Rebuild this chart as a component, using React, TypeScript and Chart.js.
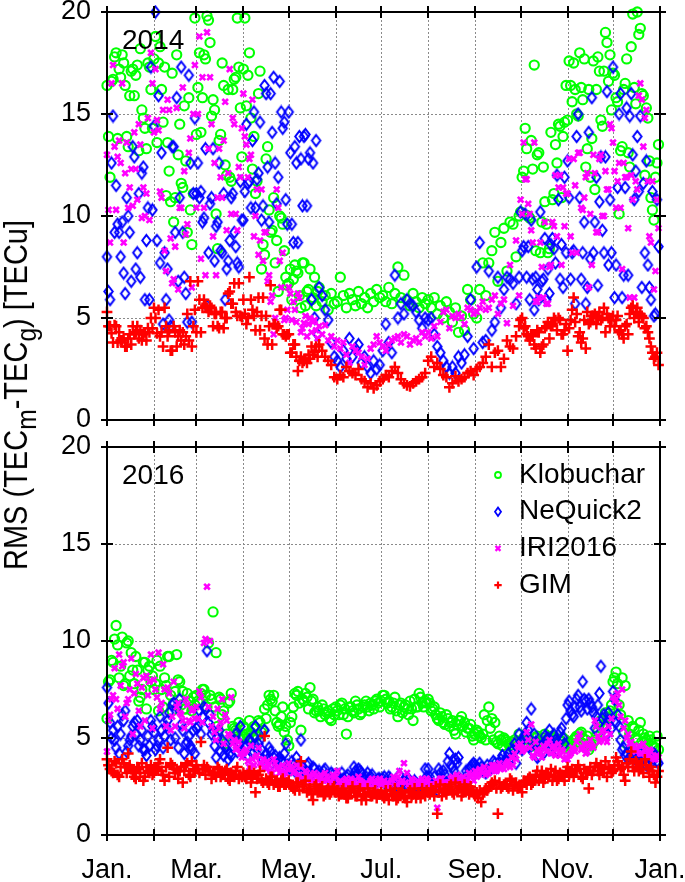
import React, { useEffect, useRef } from 'react';
import { Chart, registerables } from 'chart.js';

Chart.register(...registerables);

// ---------- categories / ticks ----------
const DAYS: number[] = Array.from({ length: 183 }, (_, i) => i * 2); // even days of year 0..364
const ODD_DAYS: number[] = Array.from({ length: 182 }, (_, i) => 1 + i * 2); // odd days 1..363
const EARLY_DAYS: number[] = Array.from({ length: 70 }, (_, i) => 1 + i * 2); // odd days 1..139
const LATE_DAYS: number[] = Array.from({ length: 46 }, (_, i) => 273 + i * 2); // odd days 273..363
const MONTH_STARTS = [0, 31, 59, 90, 120, 151, 181, 212, 243, 273, 304, 334, 365];
const MONTH_LABELS = ['Jan.', '', 'Mar.', '', 'May.', '', 'Jul.', '', 'Sep.', '', 'Nov.', '', 'Jan.'];
const Y_TICKS = [0, 5, 10, 15, 20];
const SERIES_NAMES = ['Klobuchar', 'NeQuick2', 'IRI2016', 'GIM'];
const SERIES_COLORS = ['#00ff00', '#0000ff', '#ff00ff', '#ff0000'];
const PANEL_YEARS = ['2014', '2016'];

// ---------- 2014 panel, even days (rows: Jan..Dec) ----------
const KLOB_2014 = [
  16.4, 11.9, 16.7, 18.0, 17.2, 17.9, 16.4, 13.4, 17.1, 15.9, 17.4, 18.2, 14.8, 13.3, 17.3, 14.3,
  18.8, 17.5, 16.2, 17.3, 13.6, 10.7, 9.7, 17.9, 14.5, 11.4, 12.7, 15.8, 8.6, 19.7,
  16.3, 14.1, 17.9, 19.8, 18.5, 15.7, 10.1, 13.7, 17.5, 12.5, 16.2, 11.7, 16.7, 19.7, 15.3,
  17.2, 15.4, 18.0, 12.3, 11.1, 16.0, 7.4, 8.1, 13.4, 9.2, 10.9, 8.8, 10.0, 9.6, 7.0,
  6.7, 5.9, 7.6, 7.2, 5.5, 7.7, 6.3, 7.4, 6.0, 5.6, 6.5, 5.8, 6.1, 5.4, 6.2, 5.7,
  5.8, 7.0, 6.1, 5.5, 6.2, 5.9, 5.6, 6.3, 5.7, 6.0, 5.5, 6.2, 5.8, 6.4, 6.0,
  6.1, 5.8, 6.5, 5.7, 6.2, 7.5, 6.0, 7.1, 5.9, 5.6, 6.2, 5.8, 5.5, 6.0, 5.7,
  5.9, 5.5, 6.0, 5.2, 5.6, 5.0, 5.8, 5.3, 4.8, 5.5, 4.3, 5.1, 4.4, 6.4, 5.9, 5.2,
  5.0, 6.4, 7.7, 6.1, 7.7, 8.3, 9.2, 6.8, 8.7, 9.4, 7.3, 9.7, 9.6, 8.0, 10.0,
  11.9, 14.3, 10.0, 13.7, 17.4, 13.0, 8.2, 12.4, 9.6, 8.4, 10.8, 13.5, 14.5, 10.9, 14.6,
  14.7, 16.4, 17.5, 15.0, 18.0, 15.7, 12.4, 16.2, 13.8, 11.3, 17.8, 14.7, 17.1, 18.5, 17.9,
  17.0, 15.8, 10.1, 13.4, 16.5, 13.1, 18.3, 16.3, 20.0, 19.2, 15.9, 15.3, 12.7, 10.3, 11.9, 13.5,
];
const NEQ_2014 = [
  8.0, 5.9, 14.9, 11.5, 9.2, 9.7, 6.2, 10.0, 6.8, 12.9, 8.2, 7.0, 12.4, 8.8, 5.9, 10.3,
  20.0, 15.9, 13.1, 8.2, 7.4, 4.6, 13.4, 15.8, 10.9, 9.2, 6.2, 16.9, 4.8, 14.8,
  12.6, 11.2, 9.9, 5.6, 10.6, 13.3, 9.5, 12.6, 8.2, 5.9, 7.8, 10.9, 9.2, 7.7, 11.7,
  9.8, 14.5, 11.7, 13.7, 10.4, 12.1, 9.8, 16.4, 12.4, 16.0, 16.8, 10.6, 16.6, 14.3, 10.8,
  15.1, 9.6, 13.4, 8.7, 12.8, 13.9, 10.5, 13.1, 12.6, 13.7, 6.5, 6.1, 5.4, 4.9, 3.8, 3.1,
  2.9, 2.6, 3.4, 3.0, 4.0, 3.1, 3.5, 3.7, 2.8, 3.1, 2.6, 2.3, 2.9, 2.5, 2.7,
  3.4, 4.7, 3.8, 3.3, 7.1, 5.0, 5.7, 5.2, 5.9, 5.7, 5.6, 5.3, 4.9, 4.5, 5.0,
  4.9, 5.0, 4.2, 3.6, 3.3, 2.9, 2.6, 2.3, 2.6, 2.3, 3.1, 2.8, 3.2, 4.1, 5.9, 3.5,
  7.5, 8.7, 3.8, 3.9, 7.3, 4.4, 4.8, 7.0, 5.5, 6.4, 7.0, 6.9, 6.7, 5.7, 7.0,
  8.3, 10.1, 8.5, 9.8, 5.4, 6.4, 10.2, 6.9, 5.9, 6.2, 8.9, 7.7, 10.8, 8.6, 11.9,
  12.7, 6.9, 8.3, 13.9, 10.9, 8.2, 5.7, 14.1, 15.8, 9.7, 6.6, 12.9, 8.2, 16.1, 10.8,
  17.3, 7.6, 15.0, 6.0, 11.4, 7.1, 16.0, 10.8, 13.9, 14.9, 11.6, 12.7, 6.5, 11.2, 5.2, 8.5,
];
const IRI_2014 = [
  13.0, 8.7, 17.4, 10.3, 13.7, 16.5, 12.1, 10.4, 12.3, 14.1, 10.8, 13.5, 11.4, 11.1, 9.8, 16.5,
  17.2, 14.2, 10.9, 8.3, 15.7, 8.9, 6.9, 15.3, 10.4, 16.3, 9.1, 13.1, 6.5, 17.4,
  15.0, 7.9, 10.4, 19.0, 16.8, 9.0, 7.1, 13.3, 10.9, 15.6, 12.1, 10.1, 14.5, 9.3, 11.9,
  16.0, 13.5, 12.8, 15.7, 10.0, 8.1, 11.3, 9.2, 6.8, 5.8, 4.2, 11.3, 7.8, 8.2, 5.0,
  6.5, 4.9, 5.4, 6.2, 4.3, 4.75, 4.1, 5.0, 4.8, 4.4, 4.6, 4.2, 4.65, 3.9, 4.1, 3.6,
  3.9, 3.5, 3.8, 3.2, 2.8, 3.6, 3.4, 3.3, 3.1, 2.7, 3.0, 3.5, 3.7, 4.1, 3.8,
  3.6, 3.4, 3.7, 3.9, 4.0, 4.1, 3.8, 4.2, 4.1, 3.7, 3.9, 4.0, 3.8, 4.3, 4.1,
  4.3, 4.0, 4.6, 4.1, 4.8, 5.3, 5.4, 4.5, 5.1, 5.0, 5.2, 5.05, 4.7, 5.5, 5.4, 5.2,
  5.3, 5.5, 5.8, 5.4, 5.5, 5.9, 6.1, 5.2, 5.7, 5.9, 4.75, 7.6, 5.6, 8.8, 6.1,
  10.1, 11.8, 10.6, 9.3, 13.6, 5.8, 8.7, 6.0, 5.7, 7.5, 9.7, 12.0, 11.4, 7.6, 9.5,
  11.1, 9.0, 12.8, 8.2, 13.1, 10.3, 11.9, 6.5, 7.6, 12.1, 9.2, 13.0, 10.0, 11.3, 14.5,
  13.6, 10.4, 12.6, 7.4, 11.9, 9.4, 12.0, 6.0, 11.3, 16.5, 13.4, 15.2, 9.0, 11.7, 7.3, 9.4,
];
const GIM_2014 = [
  5.3, 4.6, 3.8, 4.6, 4.3, 3.9, 3.6, 4.0, 3.7, 4.2, 4.6, 4.4, 4.2, 3.9, 4.3, 4.5,
  5.0, 5.4, 4.3, 5.5, 4.1, 3.4, 4.6, 3.6, 4.4, 4.3, 4.1, 3.9, 3.6, 5.4,
  6.8, 4.3, 5.9, 5.5, 5.6, 4.6, 5.2, 4.5, 5.3, 5.0, 6.2, 5.7, 6.7, 5.1, 5.1,
  5.9, 4.7, 7.0, 5.4, 4.4, 6.0, 5.1, 4.0, 3.7, 6.6, 4.7, 4.5, 5.4, 4.2, 4.1,
  4.2, 3.3, 3.7, 2.4, 3.1, 2.9, 2.8, 3.0, 3.2, 3.6, 3.7, 3.4, 3.1, 2.9, 2.7, 2.1,
  2.0, 2.2, 2.1, 2.6, 2.4, 2.3, 2.2, 2.5, 2.0, 1.9, 1.6, 1.8, 1.55, 1.7, 1.9,
  2.0, 2.2, 2.1, 2.4, 2.6, 2.3, 2.0, 1.8, 1.7, 1.65, 1.8, 1.9, 2.0, 2.1, 2.3,
  2.9, 3.1, 2.6, 2.8, 2.5, 2.2, 2.1, 1.6, 1.8, 2.15, 1.9, 2.0, 2.1, 2.3, 2.4, 2.2,
  2.5, 2.6, 2.8, 3.1, 3.7, 2.6, 3.3, 3.4, 2.6, 3.0, 3.9, 3.6, 3.5, 4.1, 4.6,
  5.0, 4.6, 4.1, 4.2, 3.7, 4.4, 3.3, 3.7, 4.6, 4.0, 4.7, 4.9, 5.0, 4.2, 4.4,
  3.4, 4.9, 6.0, 5.2, 4.3, 4.0, 3.5, 4.7, 5.1, 5.2, 5.0, 4.9, 5.5, 5.2, 4.6,
  5.1, 4.9, 4.3, 4.2, 4.6, 4.2, 5.5, 5.0, 5.5, 5.2, 5.0, 4.6, 4.0, 3.3, 3.1, 2.7,
];

// ---------- 2014 panel, odd days of the noisy seasons (Jan..mid-May, Oct..Dec) ----------
const KLOB_2014_EARLY = [
  13.9, 16.6, 17.8, 13.8, 16.8, 17.5, 13.9, 15.9, 17.2, 16.9, 13.2, 15.2, 14.3, 17.5, 16.2,
  17.7, 13.6, 18.3, 14.6, 11.0, 12.2, 17.0, 10.9, 13.0, 11.6, 15.4, 9.2, 10.3, 11.1,
  14.0, 18.0, 15.8, 17.7, 19.6, 14.9, 15.2, 8.4, 14.0, 16.4, 12.0, 11.9, 16.2, 16.8, 17.3, 12.9,
  19.7, 16.9, 14.8, 13.9, 11.7, 17.1, 8.6, 12.8, 10.3, 9.3, 7.7, 6.3, 9.9, 8.3, 6.6,
  7.4, 6.9, 7.3, 6.1, 7.7, 5.6, 6.4, 5.9, 7.0, 6.3,
];
const KLOB_2014_LATE = [
  10.2, 12.2, 13.3, 9.9, 12.3, 8.3, 13.1, 9.7, 10.7, 8.2, 14.1, 11.1, 12.6, 14.4, 13.9, 16.4,
  17.6, 15.6, 16.2, 14.9, 16.3, 17.7, 13.3, 11.9, 17.6, 16.2, 17.1, 14.4, 19.0, 16.6, 15.2,
  16.9, 15.6, 13.2, 16.2, 17.7, 12.4, 19.9, 15.5, 18.9, 16.0, 12.0, 14.8, 10.9, 9.8, 12.6,
];
const NEQ_2014_EARLY = [
  6.3, 12.6, 9.2, 9.6, 8.0, 7.2, 10.9, 9.2, 13.4, 7.4, 11.1, 12.1, 5.9, 10.4, 17.3,
  14.4, 8.8, 7.7, 4.7, 5.9, 4.9, 13.4, 9.2, 6.8, 17.3, 7.0, 4.8, 12.6, 11.1,
  11.1, 10.9, 9.7, 13.3, 8.2, 10.9, 7.8, 9.7, 8.3, 11.1, 7.4, 8.8, 11.1, 8.5, 7.5, 9.8,
  11.2, 11.6, 10.4, 15.1, 11.8, 14.6, 10.5, 16.0, 9.7, 14.1, 12.6, 11.9, 15.1, 14.6, 9.6,
  13.1, 8.7, 12.6, 13.9, 10.5, 14.0, 12.8, 5.9, 5.0, 4.2,
];
const NEQ_2014_LATE = [
  10.2, 8.5, 7.0, 5.9, 6.9, 7.0, 5.9, 6.8, 8.9, 7.4, 8.6, 8.4, 12.0, 6.9, 6.5, 8.2,
  10.9, 8.2, 5.7, 15.0, 6.9, 9.7, 6.5, 7.9, 8.2, 11.9, 10.7, 9.3, 12.9, 7.6, 8.2,
  6.0, 11.4, 16.0, 7.1, 15.3, 14.9, 13.0, 12.2, 11.2, 6.5, 8.2, 7.6, 5.9, 5.1, 10.8,
];
const IRI_2014_EARLY = [
  10.3, 16.5, 13.4, 12.9, 12.6, 8.7, 13.6, 11.4, 10.5, 12.3, 14.5, 9.9, 10.0, 14.8, 18.0,
  14.1, 14.7, 11.2, 15.2, 7.3, 15.2, 6.7, 8.5, 6.4, 10.4, 12.2, 9.6, 13.8, 15.0,
  10.4, 18.8, 16.8, 7.1, 13.3, 14.5, 12.6, 10.9, 11.9, 13.7, 9.3, 17.2, 14.8, 10.1, 12.4, 14.3,
  13.9, 11.9, 13.0, 9.0, 11.3, 8.8, 7.8, 9.2, 7.1, 6.1, 5.0, 10.4, 6.5, 4.9, 5.4,
  6.2, 5.8, 4.8, 6.0, 4.5, 5.1, 4.7, 4.3, 4.9, 4.0,
];
const IRI_2014_LATE = [
  10.8, 13.6, 11.8, 10.1, 8.7, 5.8, 6.0, 7.5, 9.7, 5.7, 7.6, 9.5, 9.0, 12.0, 11.4, 11.1,
  12.8, 8.2, 11.5, 13.1, 10.4, 10.9, 12.1, 10.1, 13.0, 9.2, 12.8, 10.0, 12.2, 11.3, 14.3,
  12.2, 11.7, 10.4, 12.6, 11.9, 6.0, 10.8, 11.7, 15.9, 15.7, 14.8, 11.7, 8.7, 6.4, 10.8,
];
const GIM_2014_EARLY = [
  4.6, 4.25, 4.65, 3.8, 3.9, 4.0, 3.6, 4.2, 4.6, 4.3, 4.0, 3.9, 4.3, 4.5, 5.0,
  5.5, 4.25, 4.1, 3.6, 4.6, 4.4, 3.4, 4.3, 4.1, 3.9, 3.7, 5.2, 6.8, 4.6,
  4.3, 5.9, 5.5, 5.6, 5.3, 5.5, 5.2, 4.6, 5.3, 4.5, 5.0, 6.3, 5.7, 5.3, 6.7, 5.05,
  5.2, 5.0, 5.9, 5.1, 5.3, 4.4, 6.0, 5.1, 4.6, 3.7, 4.7, 4.6, 5.4, 4.2, 4.2,
  3.3, 3.7, 3.1, 2.9, 2.8, 3.0, 3.2, 3.6, 3.35, 3.1,
];
const GIM_2014_LATE = [
  4.9, 4.5, 4.2, 3.9, 4.1, 3.5, 4.3, 3.6, 4.5, 4.8, 4.6, 5.0, 4.4, 4.9, 4.2, 4.7,
  4.5, 5.4, 4.8, 4.1, 3.8, 4.9, 5.3, 4.8, 5.1, 4.7, 5.3, 5.0, 4.3, 5.0, 4.9,
  4.6, 5.1, 4.4, 4.0, 4.7, 5.2, 5.6, 5.3, 4.8, 5.1, 4.5, 4.3, 3.6, 3.0, 3.3,
];

// ---------- 2016 panel, even days ----------
const KLOB_2016 = [
  6.0, 8.0, 8.9, 10.8, 8.1, 10.2, 7.8, 10.0, 9.4, 7.8, 8.5, 7.1, 8.9, 6.5, 8.7, 8.2,
  7.8, 6.4, 7.5, 8.1, 9.2, 7.2, 6.8, 9.3, 7.9, 7.4, 6.5, 6.9, 6.4, 6.7,
  6.9, 7.3, 7.5, 6.6, 7.2, 11.5, 9.4, 7.1, 6.2, 4.7, 6.8, 7.3, 5.5, 5.3, 5.0,
  5.6, 5.2, 5.9, 5.0, 5.5, 5.9, 5.3, 6.5, 6.7, 7.0, 7.2, 5.8, 5.7, 6.6, 5.6,
  4.6, 6.1, 7.3, 7.4, 5.4, 6.9, 7.1, 7.6, 7.0, 6.4, 6.4, 6.7, 6.2, 6.4, 5.9, 6.2,
  6.4, 6.7, 6.2, 5.2, 6.6, 6.4, 6.9, 6.5, 6.3, 6.7, 6.6, 6.8, 6.5, 7.0, 6.6,
  7.2, 7.0, 6.9, 6.6, 7.1, 6.1, 6.8, 6.6, 6.5, 6.9, 5.9, 6.6, 7.3, 6.8, 6.9,
  7.0, 6.4, 6.6, 6.0, 6.3, 5.8, 6.2, 5.6, 5.9, 5.2, 5.9, 6.1, 5.8, 5.5, 5.7, 4.9,
  5.4, 5.1, 5.2, 4.9, 6.6, 6.0, 5.8, 4.7, 4.9, 5.0, 4.8, 4.6, 4.5, 4.7, 5.2,
  4.9, 4.6, 5.0, 4.8, 4.7, 5.1, 4.8, 5.0, 4.9, 5.0, 5.1, 4.9, 4.6, 4.8, 4.7,
  4.6, 4.7, 4.9, 5.1, 5.2, 5.0, 4.9, 4.4, 4.6, 4.9, 5.4, 5.9, 5.5, 6.1, 6.4,
  7.9, 8.4, 6.7, 8.1, 7.7, 5.9, 4.4, 5.5, 4.9, 5.8, 5.2, 4.9, 5.1, 4.6, 4.5, 4.4,
];
const NEQ_2016 = [
  7.6, 5.8, 5.4, 4.5, 4.2, 6.2, 6.4, 4.6, 5.1, 5.8, 5.9, 4.9, 4.4, 4.1, 4.6, 5.6,
  4.4, 4.9, 5.4, 5.1, 5.9, 4.9, 6.8, 6.6, 7.0, 5.4, 4.7, 5.1, 4.4, 4.2,
  5.6, 5.2, 6.6, 9.5, 6.2, 5.4, 4.0, 5.4, 4.9, 4.5, 3.9, 4.1, 4.9, 4.3, 5.6,
  4.3, 4.6, 4.9, 4.2, 5.6, 4.7, 4.4, 5.4, 3.9, 4.3, 4.0, 3.7, 4.0, 3.8, 4.7,
  3.5, 3.8, 3.3, 3.6, 4.9, 3.4, 3.6, 3.2, 3.5, 3.0, 3.3, 3.1, 3.4, 3.0, 3.2, 2.9,
  3.1, 2.8, 2.9, 3.0, 2.7, 3.0, 3.3, 3.4, 3.2, 2.9, 3.2, 3.0, 2.8, 2.7, 2.9,
  2.9, 2.6, 3.0, 2.8, 2.7, 2.5, 2.6, 2.8, 2.7, 2.5, 2.4, 2.6, 2.5, 2.3, 3.4,
  3.4, 2.7, 3.0, 2.3, 3.2, 3.3, 2.7, 4.2, 3.5, 3.9, 4.0, 2.7, 2.5, 3.1, 3.5, 3.7,
  3.5, 3.7, 3.3, 3.2, 3.4, 3.5, 3.7, 3.6, 3.9, 3.8, 4.0, 3.9, 4.4, 3.7, 5.2,
  4.4, 5.2, 5.4, 6.5, 5.2, 4.0, 4.5, 4.2, 4.9, 5.4, 4.6, 4.9, 4.3, 5.5, 4.7,
  6.7, 6.4, 6.1, 7.0, 6.6, 7.9, 6.9, 7.0, 6.6, 5.5, 6.7, 8.7, 6.2, 5.2, 5.9,
  7.4, 5.8, 5.6, 4.4, 4.1, 3.9, 4.3, 4.0, 3.8, 4.2, 3.9, 3.6, 4.0, 3.8, 4.1, 3.7,
];
const IRI_2016 = [
  4.3, 6.2, 7.2, 7.0, 9.3, 8.7, 6.1, 7.0, 9.1, 7.3, 7.8, 5.6, 8.1, 8.2, 7.9, 5.5,
  7.5, 9.4, 6.8, 7.5, 7.6, 5.4, 7.9, 6.6, 6.3, 5.9, 7.0, 5.9, 6.4, 6.0,
  6.0, 7.1, 9.9, 12.8, 10.0, 6.1, 4.9, 5.5, 7.0, 6.2, 5.2, 7.1, 4.9, 4.5, 4.2,
  4.2, 4.4, 3.5, 3.9, 4.0, 4.5, 3.6, 3.5, 3.8, 3.3, 3.9, 3.4, 3.2, 3.6, 3.2,
  3.7, 3.4, 3.3, 3.0, 3.5, 2.8, 3.2, 2.9, 3.1, 2.7, 3.0, 2.8, 3.2, 2.9, 2.7, 3.0,
  3.3, 2.8, 2.5, 2.9, 2.6, 2.8, 2.5, 3.0, 2.7, 2.6, 2.5, 2.8, 2.6, 2.7, 2.9,
  2.7, 2.6, 2.5, 2.8, 2.9, 3.0, 2.7, 3.7, 3.2, 2.5, 2.8, 2.6, 2.7, 2.9, 2.6,
  2.8, 2.6, 2.5, 1.4, 2.9, 2.7, 2.5, 2.7, 3.0, 2.8, 2.6, 2.9, 2.5, 2.7, 3.0, 2.8,
  3.0, 3.4, 3.2, 3.1, 3.2, 3.6, 3.3, 3.5, 3.4, 3.4, 3.7, 3.5, 3.6, 3.9, 4.5,
  4.3, 4.5, 4.9, 5.7, 4.0, 4.4, 4.2, 4.6, 4.3, 4.9, 4.5, 4.1, 4.7, 4.4, 3.9,
  3.9, 4.2, 4.4, 4.8, 5.2, 4.5, 4.2, 4.6, 4.6, 5.9, 5.1, 4.9, 5.4, 4.8, 5.2,
  7.1, 7.0, 6.7, 7.5, 5.9, 5.2, 4.8, 4.6, 4.4, 4.2, 4.7, 4.1, 4.4, 4.0, 3.9, 4.0,
];
const GIM_2016 = [
  3.9, 3.4, 3.2, 3.7, 3.0, 3.9, 3.5, 4.2, 3.4, 3.0, 3.5, 3.2, 2.8, 3.5, 3.2, 3.1,
  3.5, 3.7, 3.3, 2.8, 4.5, 3.7, 3.4, 3.4, 3.3, 2.7, 3.6, 3.1, 3.8, 3.3,
  3.4, 4.8, 3.6, 3.5, 3.3, 3.2, 3.0, 3.4, 3.1, 3.3, 2.9, 3.2, 3.0, 3.5, 3.1,
  3.2, 2.9, 3.3, 3.0, 2.2, 3.1, 2.8, 5.1, 2.7, 3.0, 2.6, 2.8, 2.5, 2.9, 2.6,
  2.8, 2.5, 2.3, 2.7, 3.8, 2.6, 2.2, 2.4, 1.8, 2.6, 2.3, 2.5, 2.1, 2.4, 2.2, 2.5,
  2.3, 2.1, 2.4, 1.9, 2.2, 2.5, 2.0, 2.3, 1.8, 2.1, 2.4, 2.0, 2.2, 1.9, 2.1,
  2.0, 2.3, 1.8, 2.1, 2.4, 1.9, 2.2, 2.0, 1.7, 2.3, 2.1, 1.9, 2.2, 2.4, 2.0,
  2.2, 2.4, 2.0, 1.1, 2.6, 2.3, 2.1, 2.5, 2.2, 2.7, 2.4, 2.0, 2.6, 2.3, 2.5, 2.2,
  2.2, 2.3, 2.1, 2.4, 2.5, 2.7, 2.8, 1.1, 2.4, 2.6, 2.5, 2.9, 2.3, 2.7, 2.5,
  2.2, 2.7, 2.9, 2.6, 2.8, 3.3, 3.0, 2.7, 3.2, 3.0, 2.8, 3.3, 2.9, 3.1, 2.8,
  3.5, 3.2, 3.0, 3.3, 3.4, 2.9, 3.2, 2.4, 3.1, 3.5, 3.3, 3.6, 3.2, 3.0, 3.4,
  3.3, 4.0, 3.6, 3.5, 2.8, 3.5, 4.3, 3.3, 3.7, 3.4, 3.2, 3.6, 3.0, 3.3, 2.7, 3.3,
];

// ---------- 2016 panel, odd days ----------
const KLOB_2016_ODD = [
  7.9, 9.0, 10.1, 9.8, 8.7, 7.7, 9.9, 8.2, 8.5, 9.2, 6.9, 7.5, 8.9, 8.5, 7.9,
  7.5, 9.0, 8.7, 6.6, 7.7, 9.2, 6.4, 7.4, 8.0, 6.7, 6.5, 7.3, 6.9, 7.1,
  7.2, 6.8, 7.5, 7.2, 9.9, 7.0, 6.6, 5.6, 7.0, 6.4, 5.2, 6.9, 5.6, 5.4, 5.8, 5.1,
  5.5, 5.0, 5.3, 5.6, 5.1, 5.8, 5.4, 6.0, 7.2, 6.9, 6.4, 5.6, 6.1, 5.3, 4.9,
  5.8, 6.6, 7.2, 6.8, 7.0, 7.3, 6.5, 6.9, 6.3, 6.6, 6.1, 6.5, 6.3, 6.0, 6.5,
  6.6, 6.2, 6.8, 6.5, 6.1, 6.6, 6.3, 6.7, 6.2, 6.6, 6.9, 6.4, 6.7, 6.9, 6.8,
  6.9, 7.2, 6.8, 6.5, 6.8, 6.4, 6.7, 6.3, 6.7, 6.2, 6.5, 7.0, 6.6, 7.1, 6.6, 6.8,
  6.8, 6.5, 6.2, 5.9, 6.1, 5.7, 6.0, 5.8, 5.4, 5.7, 5.9, 5.6, 5.3, 5.5, 5.1,
  5.2, 5.3, 5.0, 6.2, 5.9, 5.5, 4.9, 4.8, 5.1, 4.6, 4.9, 4.7, 4.8, 4.9, 4.6,
  4.8, 5.0, 4.7, 4.9, 4.6, 5.0, 4.8, 4.7, 5.2, 4.9, 4.6, 5.0, 4.7, 4.9, 5.0, 4.5,
  4.8, 4.5, 5.0, 4.8, 5.3, 4.7, 5.1, 4.6, 4.8, 5.1, 5.7, 5.6, 6.3, 6.0, 6.7,
  8.1, 7.8, 6.2, 5.3, 4.7, 5.2, 5.6, 5.0, 5.4, 4.8, 5.0, 4.7, 4.9, 4.5, 5.1,
];
const NEQ_2016_ODD = [
  6.8, 5.0, 4.9, 5.6, 5.2, 5.9, 4.3, 4.9, 5.6, 5.2, 4.6, 5.4, 4.4, 5.1, 5.9,
  5.3, 4.6, 6.1, 4.5, 5.6, 6.3, 6.7, 5.0, 4.5, 5.7, 4.2, 4.8, 4.6, 5.4,
  5.5, 6.4, 6.1, 6.5, 5.8, 5.2, 4.6, 5.0, 4.3, 4.1, 4.6, 4.2, 4.5, 5.2, 4.8, 4.4,
  4.5, 4.1, 4.8, 5.1, 4.4, 4.9, 3.9, 4.2, 4.5, 3.7, 4.1, 3.9, 3.8, 4.2, 3.6,
  3.4, 3.6, 4.0, 3.3, 3.5, 3.2, 3.7, 3.1, 3.4, 3.2, 3.0, 3.3, 3.1, 2.9, 3.1,
  3.0, 2.9, 3.2, 2.8, 3.1, 2.9, 3.5, 3.1, 3.3, 2.8, 3.0, 2.9, 3.1, 2.7, 2.9,
  2.8, 3.0, 2.7, 2.9, 2.6, 2.8, 3.1, 2.7, 2.6, 2.9, 2.5, 2.8, 2.6, 2.4, 2.7, 3.0,
  3.0, 2.6, 2.5, 3.4, 2.9, 3.1, 3.8, 3.6, 3.3, 3.7, 2.9, 2.6, 3.3, 3.4, 3.6,
  3.6, 3.4, 3.5, 3.3, 3.6, 3.4, 3.8, 3.5, 3.7, 4.1, 3.8, 4.2, 4.0, 4.7, 4.5,
  4.8, 5.0, 5.8, 4.5, 4.3, 4.8, 4.1, 4.6, 5.1, 5.0, 4.4, 5.2, 4.7, 5.3, 5.0, 6.0,
  6.9, 6.2, 6.6, 7.2, 6.4, 7.0, 6.5, 6.8, 6.3, 6.1, 7.3, 6.0, 5.6, 6.3, 5.5,
  7.0, 6.2, 4.9, 4.5, 4.2, 4.0, 4.1, 3.9, 4.3, 3.8, 4.0, 3.7, 3.9, 4.2, 3.8,
];
const IRI_2016_ODD = [
  5.9, 7.0, 8.6, 6.5, 7.7, 8.9, 6.8, 7.5, 5.2, 8.3, 6.4, 7.6, 5.9, 7.2, 9.3,
  8.0, 7.1, 6.5, 8.8, 5.6, 7.3, 6.1, 5.6, 6.8, 6.2, 5.5, 6.7, 5.8, 6.5,
  6.6, 7.4, 5.8, 10.1, 6.6, 5.6, 5.3, 6.5, 5.8, 4.7, 5.9, 5.1, 4.7, 4.4, 4.8, 4.0,
  4.3, 3.8, 4.6, 3.6, 4.1, 3.7, 3.9, 3.4, 3.6, 3.2, 3.7, 3.5, 3.3, 3.0, 3.4,
  3.5, 3.2, 3.6, 3.1, 2.9, 3.3, 3.0, 2.8, 3.2, 2.9, 3.1, 2.8, 3.0, 2.7, 3.1,
  3.0, 2.7, 2.6, 2.8, 2.5, 2.9, 2.7, 2.6, 2.8, 2.4, 2.7, 2.6, 2.9, 2.5, 2.8,
  2.6, 2.8, 2.7, 2.5, 3.0, 2.6, 3.3, 2.8, 2.7, 2.6, 2.9, 2.5, 2.8, 2.6, 2.7, 2.9,
  2.6, 2.5, 2.8, 2.6, 2.9, 2.7, 2.6, 2.9, 2.7, 3.1, 2.8, 3.0, 2.9, 3.2, 3.1,
  3.3, 3.1, 3.3, 3.5, 3.2, 3.4, 3.6, 3.3, 3.7, 3.5, 3.6, 3.8, 4.0, 4.2, 4.6,
  4.7, 4.4, 5.3, 4.5, 4.1, 4.8, 4.3, 4.0, 4.5, 4.7, 4.2, 4.6, 4.4, 4.1, 4.3, 4.0,
  4.1, 4.5, 4.3, 5.0, 4.4, 4.7, 4.3, 4.9, 4.5, 5.6, 4.8, 5.3, 5.0, 5.6, 6.0,
  6.9, 7.3, 6.1, 5.5, 5.0, 4.7, 4.5, 4.3, 4.6, 4.2, 4.4, 4.1, 4.3, 3.9, 4.1,
];
const GIM_2016_ODD = [
  3.6, 3.3, 3.8, 3.1, 3.5, 3.7, 3.2, 3.6, 3.3, 2.9, 3.4, 3.7, 3.0, 3.3, 3.6,
  3.2, 3.4, 3.9, 3.1, 3.5, 3.0, 3.6, 3.2, 2.9, 3.5, 3.3, 3.7, 3.0, 3.4,
  3.6, 3.2, 3.4, 3.1, 3.3, 2.9, 3.2, 3.5, 3.0, 3.2, 3.4, 2.8, 3.1, 3.3, 2.9, 3.0,
  3.0, 3.1, 2.7, 3.2, 2.9, 3.3, 2.7, 2.9, 2.6, 3.0, 2.7, 2.5, 2.8, 2.6, 2.7,
  2.6, 2.4, 2.7, 2.3, 2.5, 2.8, 2.3, 2.1, 2.5, 2.2, 2.4, 2.0, 2.3, 2.1, 2.4,
  2.2, 2.0, 2.3, 2.1, 1.9, 2.3, 2.2, 2.0, 2.4, 2.1, 1.8, 2.2, 2.0, 2.3, 2.1,
  2.2, 1.9, 2.1, 2.3, 2.0, 1.8, 2.1, 2.3, 1.9, 2.2, 2.0, 2.4, 2.1, 1.9, 2.2, 2.3,
  2.1, 2.3, 2.5, 2.2, 2.0, 2.4, 2.3, 2.6, 2.1, 2.3, 2.5, 2.2, 2.4, 2.1, 2.3,
  2.0, 1.9, 1.7, 2.2, 2.3, 2.5, 2.6, 2.4, 2.7, 2.5, 2.6, 2.4, 2.8, 2.6, 2.4,
  2.5, 2.8, 2.6, 3.0, 2.7, 3.1, 2.8, 3.3, 2.9, 3.1, 3.4, 3.0, 2.8, 3.2, 3.0, 3.3,
  3.1, 3.4, 3.3, 3.6, 3.0, 3.4, 3.2, 3.5, 3.3, 3.7, 3.1, 3.4, 3.8, 3.5, 3.2,
  3.6, 3.8, 3.4, 3.1, 3.7, 3.9, 3.5, 3.8, 3.3, 3.6, 3.9, 3.4, 3.5, 3.1, 3.0,
];

const FONT = '"Liberation Sans", Arial, Helvetica, sans-serif';

function pts(days: number[], vals: number[]) {
  return vals.map((v, j) => ({ x: days[j], y: v }));
}

function makeDiamond(hw: number, hh: number, lw: number, color: string) {
  const c = document.createElement('canvas');
  const w = Math.ceil(2 * hw + lw + 2);
  const h = Math.ceil(2 * hh + lw + 2);
  c.width = w;
  c.height = h;
  const g = c.getContext('2d')!;
  g.strokeStyle = color;
  g.lineWidth = lw;
  g.lineJoin = 'miter';
  g.beginPath();
  g.moveTo(w / 2, h / 2 - hh);
  g.lineTo(w / 2 + hw, h / 2);
  g.lineTo(w / 2, h / 2 + hh);
  g.lineTo(w / 2 - hw, h / 2);
  g.closePath();
  g.stroke();
  return c;
}

function drawMarker(ctx: CanvasRenderingContext2D, kind: number, x: number, y: number) {
  ctx.save();
  ctx.strokeStyle = SERIES_COLORS[kind];
  ctx.beginPath();
  if (kind === 0) {
    ctx.lineWidth = 1.8;
    ctx.arc(x, y, 3.0, 0, Math.PI * 2);
  } else if (kind === 1) {
    ctx.lineWidth = 1.8;
    ctx.moveTo(x, y - 4.2);
    ctx.lineTo(x + 3, y);
    ctx.lineTo(x, y + 4.2);
    ctx.lineTo(x - 3, y);
    ctx.closePath();
  } else if (kind === 2) {
    ctx.lineWidth = 2.2;
    ctx.moveTo(x - 2.5, y - 2.5);
    ctx.lineTo(x + 2.5, y + 2.5);
    ctx.moveTo(x - 2.5, y + 2.5);
    ctx.lineTo(x + 2.5, y - 2.5);
  } else {
    ctx.lineWidth = 2.2;
    ctx.moveTo(x - 3.7, y);
    ctx.lineTo(x + 3.7, y);
    ctx.moveTo(x, y - 3.7);
    ctx.lineTo(x, y + 3.7);
  }
  ctx.stroke();
  ctx.restore();
}

const framePlugin = {
  id: 'frame',
  beforeDatasetsDraw(chart: any) {
    const { ctx, chartArea: a, scales } = chart;
    const x = scales.x;
    const y = scales.y;
    ctx.save();
    ctx.strokeStyle = '#8a8a8a';
    ctx.lineWidth = 1;
    ctx.setLineDash([2, 2]);
    MONTH_STARTS.slice(1, -1).forEach((m) => {
      const px = Math.round(x.getPixelForValue(m)) + 0.5;
      ctx.beginPath();
      ctx.moveTo(px, a.top);
      ctx.lineTo(px, a.bottom);
      ctx.stroke();
    });
    Y_TICKS.slice(1, -1).forEach((v) => {
      const py = Math.round(y.getPixelForValue(v)) + 0.5;
      ctx.beginPath();
      ctx.moveTo(a.left, py);
      ctx.lineTo(a.right, py);
      ctx.stroke();
    });
    ctx.restore();
  },
  afterDatasetsDraw(chart: any, _args: any, opts: any) {
    const { ctx, chartArea: a, scales } = chart;
    const x = scales.x;
    const y = scales.y;
    ctx.save();
    ctx.strokeStyle = '#000';
    ctx.lineWidth = 2;
    ctx.setLineDash([]);
    ctx.strokeRect(a.left, a.top, a.right - a.left, a.bottom - a.top);
    const t = 6;
    MONTH_STARTS.forEach((m) => {
      const px = Math.round(x.getPixelForValue(m));
      ctx.beginPath();
      ctx.moveTo(px, a.top - t);
      ctx.lineTo(px, a.top + t);
      ctx.moveTo(px, a.bottom - t);
      ctx.lineTo(px, a.bottom + t);
      ctx.stroke();
    });
    Y_TICKS.forEach((v) => {
      const py = Math.round(y.getPixelForValue(v));
      ctx.beginPath();
      ctx.moveTo(a.left - t, py);
      ctx.lineTo(a.left + t, py);
      ctx.moveTo(a.right - t, py);
      ctx.lineTo(a.right + t, py);
      ctx.stroke();
    });
    // year label
    ctx.fillStyle = '#000';
    ctx.font = `28px ${FONT}`;
    ctx.textBaseline = 'middle';
    ctx.textAlign = 'left';
    ctx.fillText(opts.year, a.left + 15, a.top + 29);
    // legend
    if (opts.legend) {
      SERIES_NAMES.forEach((name, i) => {
        const cy = a.top + 28 + i * 36.7;
        drawMarker(ctx, i, a.left + 391, cy);
        ctx.fillStyle = '#000';
        ctx.fillText(name, a.left + 412, cy);
      });
    }
    ctx.restore();
  },
};

function buildConfig(series: { x: number; y: number }[][], isBottom: boolean, year: string, diamond: HTMLCanvasElement) {
  const styles = [
    { pointStyle: 'circle', pointRadius: 4.6, borderWidth: 2.1 },
    { pointStyle: diamond, pointRadius: 5, borderWidth: 2 },
    { pointStyle: 'crossRot', pointRadius: 4, borderWidth: 2.7 },
    { pointStyle: 'cross', pointRadius: 5.4, borderWidth: 2.5 },
  ];
  const datasets = series.map((data, i) => ({
    label: SERIES_NAMES[i],
    data,
    borderColor: SERIES_COLORS[i],
    backgroundColor: 'rgba(0,0,0,0)',
    pointBackgroundColor: 'rgba(0,0,0,0)',
    pointBorderColor: SERIES_COLORS[i],
    pointStyle: styles[i].pointStyle,
    pointRadius: styles[i].pointRadius,
    pointBorderWidth: styles[i].borderWidth,
    pointHoverRadius: styles[i].pointRadius,
    showLine: false,
    clip: false,
    order: 3 - i,
  }));
  return {
    type: 'scatter',
    data: { datasets },
    options: {
      responsive: false,
      animation: false,
      events: [],
      layout: { padding: { left: 0, right: 25, top: isBottom ? 17 : 12, bottom: 0 } },
      plugins: {
        legend: { display: false },
        tooltip: { enabled: false },
        frame: { year, legend: isBottom },
      },
      scales: {
        x: {
          type: 'linear',
          min: 0,
          max: 365,
          grid: { display: false, drawTicks: false, tickLength: 0 },
          border: { display: false },
          afterBuildTicks: (s: any) => {
            s.ticks = MONTH_STARTS.map((v) => ({ value: v }));
          },
          afterFit: (s: any) => {
            s.height = isBottom ? 47 : 16;
            s.paddingLeft = 0;
            s.paddingRight = 0;
          },
          ticks: {
            display: isBottom,
            autoSkip: false,
            maxRotation: 0,
            minRotation: 0,
            padding: 19,
            color: '#000',
            font: { family: FONT, size: 27 },
            callback: (_v: any, i: number) => MONTH_LABELS[i],
          },
        },
        y: {
          min: 0,
          max: 20,
          grid: { display: false, drawTicks: false, tickLength: 0 },
          border: { display: false },
          afterBuildTicks: (s: any) => {
            s.ticks = Y_TICKS.map((v) => ({ value: v }));
          },
          afterFit: (s: any) => {
            s.width = 107;
            s.paddingTop = 0;
            s.paddingBottom = 0;
          },
          ticks: {
            padding: 16,
            color: '#000',
            font: { family: FONT, size: 27 },
            callback: (v: any) => String(v),
          },
        },
      },
    },
    plugins: [framePlugin],
  } as any;
}

export default function App() {
  const topRef = useRef<HTMLCanvasElement>(null);
  const botRef = useRef<HTMLCanvasElement>(null);

  useEffect(() => {
    const diamond = makeDiamond(4.2, 5.5, 2, SERIES_COLORS[1]);
    const top = [
      [KLOB_2014, KLOB_2014_EARLY, KLOB_2014_LATE],
      [NEQ_2014, NEQ_2014_EARLY, NEQ_2014_LATE],
      [IRI_2014, IRI_2014_EARLY, IRI_2014_LATE],
      [GIM_2014, GIM_2014_EARLY, GIM_2014_LATE],
    ].map(([even, early, late]) => [...pts(DAYS, even), ...pts(EARLY_DAYS, early), ...pts(LATE_DAYS, late)]);
    const bottom = [
      [KLOB_2016, KLOB_2016_ODD],
      [NEQ_2016, NEQ_2016_ODD],
      [IRI_2016, IRI_2016_ODD],
      [GIM_2016, GIM_2016_ODD],
    ].map(([even, odd]) => [...pts(DAYS, even), ...pts(ODD_DAYS, odd)]);
    const c1 = new Chart(topRef.current as HTMLCanvasElement, buildConfig(top, false, PANEL_YEARS[0], diamond));
    const c2 = new Chart(botRef.current as HTMLCanvasElement, buildConfig(bottom, true, PANEL_YEARS[1], diamond));
    return () => {
      c1.destroy();
      c2.destroy();
    };
  }, []);

  const subStyle: React.CSSProperties = {
    fontSize: '0.85em',
    verticalAlign: 'baseline',
    position: 'relative',
    top: '0.32em',
  };

  return (
    <div style={{ position: 'absolute', left: 0, top: 0, width: 685, height: 882, background: '#fff' }}>
      <canvas ref={topRef} width={685} height={436} style={{ position: 'absolute', left: 0, top: 0 }} />
      <canvas ref={botRef} width={685} height={452} style={{ position: 'absolute', left: 0, top: 430 }} />
      <div
        style={{
          position: 'absolute',
          left: 16,
          top: 395,
          transform: 'translate(-50%, -50%) rotate(-90deg) scaleY(1.15)',
          fontFamily: FONT,
          fontSize: 29,
          lineHeight: 1,
          whiteSpace: 'nowrap',
          color: '#000',
        }}
      >
        RMS (TEC<span style={subStyle}>m</span>-TEC<span style={subStyle}>g</span>) [TECu]
      </div>
    </div>
  );
}
